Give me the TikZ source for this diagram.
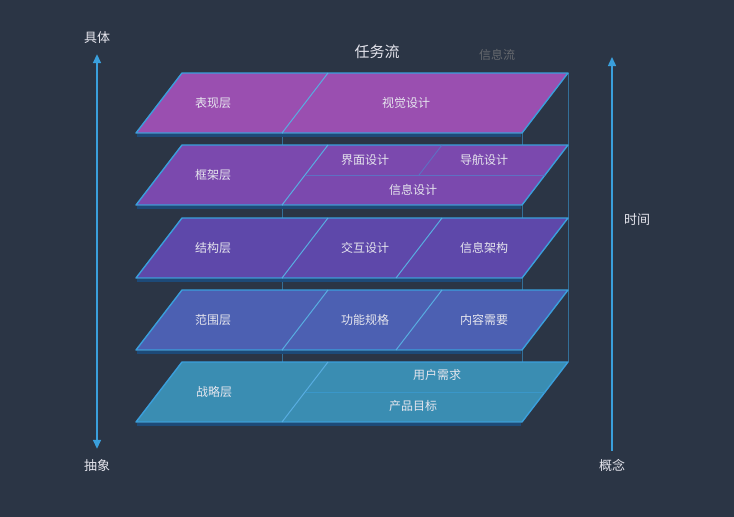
\documentclass[tikz,border=0pt]{standalone}
\usepackage{fontspec}
\setmainfont{Noto Sans CJK SC}
\usepackage{xcolor}
\usetikzlibrary{positioning, arrows.meta}

\definecolor{bgslate}{HTML}{2B3545}
\definecolor{edgeblue}{HTML}{3A9FDC}
\definecolor{rimblue}{HTML}{1D4A78}
\definecolor{lyA}{HTML}{9A4FB0}
\definecolor{lyB}{HTML}{7B49AE}
\definecolor{lyC}{HTML}{5E48AA}
\definecolor{lyD}{HTML}{4C60B2}
\definecolor{lyE}{HTML}{3A8DB2}
\definecolor{labelgray}{HTML}{E6E6EE}

\tikzset{
  layer/.style={fill=#1, draw=edgeblue, line width=1.4pt, line join=round},
  divider/.style={draw=edgeblue!85, line width=1pt},
  softline/.style={draw=edgeblue!45!lyB, line width=0.9pt},
  wire/.style={draw=edgeblue!55!bgslate, line width=0.9pt},
  axis/.style={draw=edgeblue, line width=1.5pt},
  lbl/.style={text=labelgray, font=\fontsize{12}{14}\selectfont, inner sep=1pt},
  side/.style={text=labelgray, font=\fontsize{13}{15}\selectfont, inner sep=1pt},
}

\begin{document}
\begin{tikzpicture}[x=1pt, y=-1pt, >={Triangle[length=9pt,width=8pt]}]
% background
\fill[bgslate] (0,0) rectangle (734,517);
% wire frame behind the layers
\draw[wire] (282,73) -- (282,422);
\draw[wire] (522,133) -- (522,422);
\draw[wire] (568,73) -- (568,362);
% layers
\foreach \t/\c in {73/lyA,145/lyB,218/lyC,290/lyD,362/lyE}{
  \draw[rimblue, line width=3pt] (137,\t+62) -- (521,\t+62);
  \draw[layer=\c] (182,\t) -- (568,\t) -- (522,\t+60) -- (136,\t+60) -- cycle;
  \draw[divider] (328,\t) -- (282,\t+60);
}
% inner splits
\draw[softline] (305,175) -- (545,175);
\draw[softline] (442,145) -- (419,175);
\draw[divider] (442,218) -- (396,278);
\draw[divider] (442,290) -- (396,350);
\draw[draw=edgeblue!55!lyE, line width=0.9pt] (305,392) -- (545,392);
% headings
\node[text=labelgray, font=\fontsize{15}{17}\selectfont] (task) at (377,52) {任务流};
\node[text=gray!70!bgslate, font=\fontsize{12}{14}\selectfont] (info) at (497,55) {信息流};
% presentation layer
\node[lbl] (present) at (213,103) {表现层};
\node[lbl] (visual) at (406,103) {视觉设计};
% frame layer
\node[lbl] (frame) at (213,175) {框架层};
\node[lbl] (iface) at (365,160) {界面设计};
\node[lbl] (navi) at (484,160) {导航设计};
\node[lbl] (infod) at (413,190) {信息设计};
% structure layer
\node[lbl] (struct) at (213,248) {结构层};
\node[lbl] (interact) at (365,248) {交互设计};
\node[lbl] (infoarch) at (484,248) {信息架构};
% scope layer
\node[lbl] (scope) at (213,320) {范围层};
\node[lbl] (func) at (365,320) {功能规格};
\node[lbl] (content) at (484,320) {内容需要};
% strategy layer
\node[lbl] (strat) at (214,392) {战略层};
\node[lbl] (userneed) at (437,375) {用户需求};
\node[lbl] (prodgoal) at (413,406) {产品目标};
% left axis
\node[side] (concrete) at (97,38) {具体};
\node[side] (abstract) at (97,466) {抽象};
\draw[axis,<->] ([yshift=-9pt]concrete.south) -- ([yshift=10pt]abstract.north);
% right axis
\node[side] (concept) at (612,465) {概念};
\node[side] (time) at (637,220) {时间};
\coordinate (timetop) at (612,57);
\draw[axis,->] ([yshift=7pt]concept.north) -- (timetop);
\end{tikzpicture}
\end{document}
